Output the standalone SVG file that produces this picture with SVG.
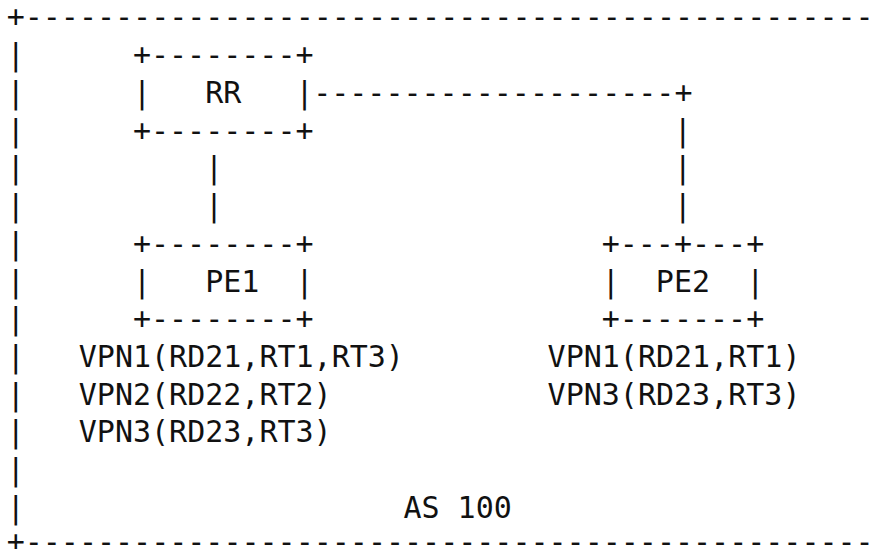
<svg xmlns="http://www.w3.org/2000/svg" width="878" height="549" viewBox="0 0 878 549">
<style>
text{font-family:"DejaVu Sans Mono","Liberation Mono",monospace;font-size:30px;fill:#111;white-space:pre}
</style>
<rect width="878" height="549" fill="#fff"/>
<g id="as100-boundary">
<text x="6.7" y="26.6" xml:space="preserve">+-----------------------------------------------</text>
<text x="6.7" y="65.3">|</text>
<text x="6.7" y="103.0">|</text>
<text x="6.7" y="140.7">|</text>
<text x="6.7" y="178.4">|</text>
<text x="6.7" y="216.1">|</text>
<text x="6.7" y="253.8">|</text>
<text x="6.7" y="291.5">|</text>
<text x="6.7" y="329.2">|</text>
<text x="6.7" y="366.9">|</text>
<text x="6.7" y="404.6">|</text>
<text x="6.7" y="442.3">|</text>
<text x="6.7" y="480.0">|</text>
<text x="6.7" y="517.7">|</text>
<text x="6.7" y="552.0" xml:space="preserve">+-----------------------------------------------</text>
<text x="403.4" y="517.7" xml:space="preserve">AS 100</text>
</g>
<g id="rr">
<text x="132.9" y="65.3">+--------+</text>
<text x="132.9" y="103.0" xml:space="preserve">|   RR   |</text>
<text x="132.9" y="140.7">+--------+</text>
</g>
<g id="pe1">
<text x="132.9" y="253.8">+--------+</text>
<text x="132.9" y="291.5" xml:space="preserve">|   PE1  |</text>
<text x="132.9" y="329.2">+--------+</text>
<text x="78.8" y="366.9">VPN1(RD21,RT1,RT3)</text>
<text x="78.8" y="404.6">VPN2(RD22,RT2)</text>
<text x="78.8" y="442.3">VPN3(RD23,RT3)</text>
</g>
<g id="pe2">
<text x="601.7" y="253.8">+---+---+</text>
<text x="601.7" y="291.5" xml:space="preserve">|  PE2  |</text>
<text x="601.7" y="329.2">+-------+</text>
<text x="547.6" y="366.9">VPN1(RD21,RT1)</text>
<text x="547.6" y="404.6">VPN3(RD23,RT3)</text>
</g>
<g id="connectors">
<text x="205.0" y="178.4">|</text>
<text x="205.0" y="216.1">|</text>
<text x="313.2" y="103.0">--------------------+</text>
<text x="673.8" y="140.7">|</text>
<text x="673.8" y="178.4">|</text>
<text x="673.8" y="216.1">|</text>
</g>
</svg>
